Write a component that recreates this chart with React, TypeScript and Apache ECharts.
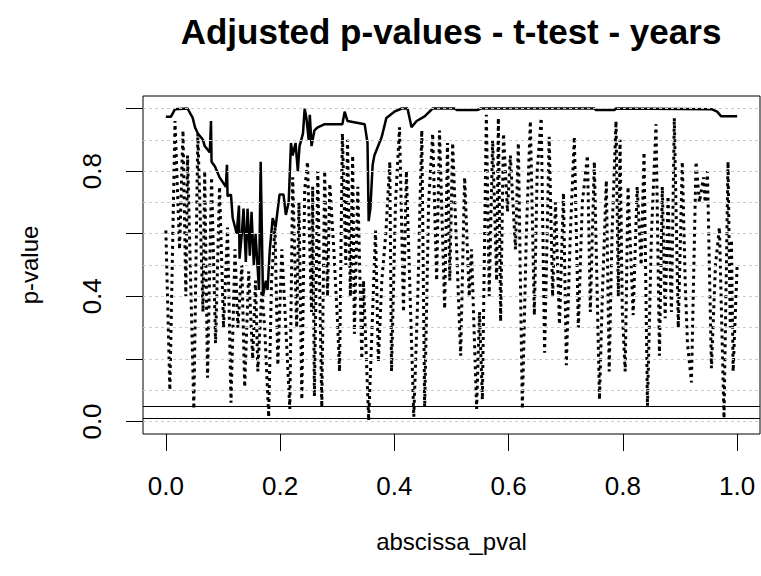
import React, { useEffect, useRef } from "react";
import * as echarts from "echarts";

const titleText = "Adjusted p-values - t-test - years";
const xName = "abscissa_pval";
const yName = "p-value";
const xTicks = [0, 0.2, 0.4, 0.6, 0.8, 1.0];
const yTicks = [0, 0.2, 0.4, 0.6, 0.8, 1.0];
const yLabelValues = [0, 0.4, 0.8];
const gridLevels = [0, 0.1, 0.2, 0.3, 0.4, 0.5, 0.6, 0.7, 0.8, 0.9, 1.0];
const thresholds = [0.05, 0.01];

// adjusted p-values (solid line)
const adjusted: [number, number][] = [
  [0.000, 0.974], [0.009, 0.974], [0.016, 0.998], [0.038, 1.0], [0.047, 0.97], [0.051, 0.94],
  [0.056, 0.92], [0.065, 0.90], [0.068, 0.88], [0.077, 0.86], [0.079, 0.96], [0.080, 0.83],
  [0.086, 0.815], [0.094, 0.78], [0.105, 0.75], [0.107, 0.82], [0.108, 0.72], [0.114, 0.725],
  [0.117, 0.65], [0.124, 0.60], [0.128, 0.69], [0.129, 0.52], [0.133, 0.60], [0.136, 0.68],
  [0.140, 0.51], [0.143, 0.68], [0.147, 0.53], [0.150, 0.67], [0.154, 0.50], [0.157, 0.60],
  [0.163, 0.42], [0.166, 0.83], [0.170, 0.40], [0.175, 0.45], [0.178, 0.42], [0.182, 0.55],
  [0.187, 0.65], [0.192, 0.62], [0.199, 0.725], [0.206, 0.725], [0.210, 0.66], [0.215, 0.70],
  [0.219, 0.89], [0.222, 0.85], [0.227, 0.89], [0.231, 0.80], [0.234, 0.88], [0.240, 0.92],
  [0.243, 1.0], [0.246, 0.97], [0.250, 0.90], [0.252, 0.98], [0.255, 0.88], [0.260, 0.93],
  [0.266, 0.94], [0.278, 0.95], [0.309, 0.95], [0.313, 0.99], [0.318, 0.96], [0.348, 0.95],
  [0.353, 0.89], [0.355, 0.64], [0.358, 0.68], [0.362, 0.82], [0.365, 0.85], [0.378, 0.91],
  [0.386, 0.97], [0.400, 0.99], [0.413, 1.0], [0.423, 1.0], [0.430, 0.94], [0.439, 0.96],
  [0.453, 0.975], [0.467, 1.0], [0.505, 1.0], [0.510, 0.995], [0.545, 0.995], [0.551, 1.0],
  [0.750, 1.0], [0.753, 0.995], [0.785, 0.995], [0.788, 1.0], [0.955, 0.998], [0.965, 0.99],
  [0.972, 0.975], [1.000, 0.975],
];

// unadjusted p-values (dotted line)
const unadjusted: [number, number][] = [
  [0.000, 0.61], [0.007, 0.10], [0.016, 0.96], [0.024, 0.55], [0.030, 0.93], [0.035, 0.40],
  [0.038, 0.85], [0.049, 0.04], [0.056, 0.92], [0.065, 0.35], [0.068, 0.80], [0.073, 0.14],
  [0.080, 0.78], [0.087, 0.25], [0.094, 0.75], [0.101, 0.30], [0.108, 0.62], [0.114, 0.06],
  [0.121, 0.55], [0.126, 0.30], [0.133, 0.50], [0.138, 0.11], [0.145, 0.48], [0.152, 0.20],
  [0.157, 0.45], [0.161, 0.16], [0.168, 0.42], [0.173, 0.30], [0.180, 0.014], [0.185, 0.45],
  [0.191, 0.62], [0.196, 0.18], [0.203, 0.55], [0.210, 0.30], [0.217, 0.04], [0.222, 0.78],
  [0.229, 0.30], [0.233, 0.70], [0.238, 0.07], [0.243, 0.74], [0.248, 0.83], [0.255, 0.35],
  [0.257, 0.75], [0.260, 0.08], [0.266, 0.80], [0.269, 0.45], [0.273, 0.045], [0.278, 0.80],
  [0.283, 0.40], [0.287, 0.76], [0.294, 0.55], [0.301, 0.30], [0.304, 0.16], [0.309, 0.92],
  [0.315, 0.50], [0.318, 0.90], [0.323, 0.40], [0.327, 0.85], [0.330, 0.28], [0.336, 0.75],
  [0.343, 0.20], [0.346, 0.45], [0.355, 0.003], [0.360, 0.25], [0.367, 0.61], [0.372, 0.19],
  [0.378, 0.45], [0.385, 0.60], [0.392, 0.83], [0.395, 0.16], [0.402, 0.70], [0.409, 0.94],
  [0.416, 0.35], [0.421, 0.80], [0.434, 0.015], [0.441, 0.40], [0.448, 0.93], [0.453, 0.045],
  [0.460, 0.70], [0.467, 0.92], [0.474, 0.45], [0.479, 0.93], [0.488, 0.36], [0.493, 0.89],
  [0.497, 0.45], [0.502, 0.89], [0.516, 0.21], [0.523, 0.78], [0.531, 0.40], [0.535, 0.55],
  [0.544, 0.04], [0.549, 0.35], [0.554, 0.07], [0.561, 0.98], [0.566, 0.40], [0.572, 0.90],
  [0.579, 0.45], [0.582, 0.97], [0.586, 0.32], [0.591, 0.92], [0.598, 0.67], [0.603, 0.85],
  [0.612, 0.55], [0.617, 0.89], [0.624, 0.04], [0.631, 0.60], [0.638, 0.96], [0.645, 0.34],
  [0.650, 0.80], [0.657, 0.97], [0.663, 0.22], [0.671, 0.91], [0.677, 0.40], [0.682, 0.70],
  [0.689, 0.31], [0.696, 0.73], [0.701, 0.18], [0.708, 0.60], [0.715, 0.91], [0.722, 0.30],
  [0.729, 0.70], [0.738, 0.85], [0.743, 0.35], [0.750, 0.83], [0.759, 0.07], [0.764, 0.40],
  [0.771, 0.77], [0.776, 0.16], [0.781, 0.60], [0.788, 0.96], [0.792, 0.40], [0.795, 0.90],
  [0.799, 0.35], [0.804, 0.16], [0.809, 0.75], [0.818, 0.34], [0.825, 0.75], [0.832, 0.50],
  [0.837, 0.86], [0.843, 0.05], [0.850, 0.60], [0.858, 0.95], [0.864, 0.21], [0.869, 0.75],
  [0.874, 0.33], [0.879, 0.72], [0.885, 0.35], [0.890, 0.97], [0.897, 0.30], [0.904, 0.83],
  [0.909, 0.45], [0.913, 0.25], [0.920, 0.125], [0.928, 0.83], [0.934, 0.70], [0.941, 0.78],
  [0.944, 0.70], [0.948, 0.80], [0.955, 0.17], [0.962, 0.50], [0.969, 0.62], [0.977, 0.01],
  [0.984, 0.83], [0.988, 0.30], [0.990, 0.58], [0.993, 0.16], [1.000, 0.50],
];

const FONT = "Liberation Sans, Arial, sans-serif";

export default function App() {
  const ref = useRef<HTMLDivElement>(null);
  useEffect(() => {
    const chart = echarts.init(ref.current as HTMLDivElement, null, { renderer: "svg" });
    chart.setOption({
      animation: false,
      backgroundColor: "#ffffff",
      title: {
        text: titleText,
        left: 451,
        top: 14,
        padding: 0,
        textAlign: "center",
        textStyle: { fontFamily: FONT, fontWeight: "bold", fontSize: 35, color: "#000" },
      },
      grid: {
        left: 143,
        top: 96,
        width: 617,
        height: 338,
        show: true,
        borderColor: "#000",
        borderWidth: 1,
        backgroundColor: "transparent",
      },
      xAxis: {
        type: "value",
        min: -0.04,
        max: 1.04,
        position: "bottom",
        axisLine: { show: false, onZero: false },
        axisTick: { show: true, inside: false, length: 17, customValues: xTicks, lineStyle: { color: "#000", width: 1 } },
        axisLabel: {
          customValues: xTicks,
          margin: 39,
          fontSize: 26,
          fontFamily: FONT,
          color: "#000",
          formatter: (v: number) => v.toFixed(1),
        },
        splitLine: { show: false },
        name: xName,
        nameLocation: "middle",
        nameGap: 95,
        nameTextStyle: { fontFamily: FONT, fontSize: 24, color: "#000" },
      },
      yAxis: {
        type: "value",
        min: -0.04,
        max: 1.04,
        position: "left",
        axisLine: { show: false, onZero: false },
        axisTick: { show: true, inside: false, length: 17, customValues: yTicks, lineStyle: { color: "#000", width: 1 } },
        axisLabel: {
          customValues: yLabelValues,
          rotate: 90,
          margin: 38,
          fontSize: 26,
          fontFamily: FONT,
          color: "#000",
          formatter: (v: number) => v.toFixed(1),
        },
        splitLine: { show: false },
        name: yName,
        nameLocation: "middle",
        nameRotate: 90,
        nameGap: 102,
        nameTextStyle: { fontFamily: FONT, fontSize: 24, color: "#000" },
      },
      series: [
        {
          type: "line",
          data: [],
          silent: true,
          markLine: {
            silent: true,
            symbol: ["none", "none"],
            label: { show: false },
            lineStyle: { color: "#cccccc", width: 1, type: [3, 3] },
            data: gridLevels.map((v) => ({ yAxis: v })),
          },
        },
        {
          type: "line",
          data: unadjusted,
          showSymbol: false,
          symbol: "none",
          silent: true,
          lineStyle: { color: "#000", width: 3, type: [3, 4], cap: "butt" },
        },
        {
          type: "line",
          data: adjusted,
          showSymbol: false,
          symbol: "none",
          silent: true,
          lineStyle: { color: "#000", width: 2.5 },
          markLine: {
            silent: true,
            symbol: ["none", "none"],
            label: { show: false },
            lineStyle: { color: "#000", width: 1, type: "solid" },
            data: thresholds.map((v) => ({ yAxis: v })),
          },
        },
      ],
    });
    return () => chart.dispose();
  }, []);
  return (
    <div
      ref={ref}
      style={{ position: "fixed", left: 0, top: 0, width: 761, height: 576, background: "#fff" }}
    />
  );
}
